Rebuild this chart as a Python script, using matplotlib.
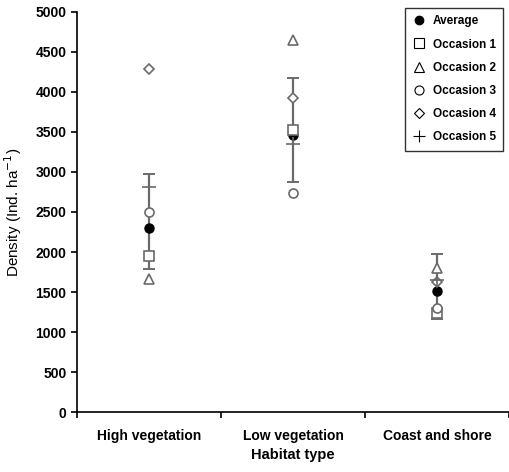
import matplotlib
matplotlib.use("Agg")
import matplotlib.pyplot as plt
from matplotlib.lines import Line2D

plt.rcParams['font.family'] = ['Liberation Sans', 'DejaVu Sans']

habitats = ['High vegetation', 'Low vegetation', 'Coast and shore']
average = [2300, 3460, 1510]
err_low = [1790, 2875, 1160]
err_high = [2975, 4175, 1975]
occasion1 = [1950, 3525, 1235]
occasion2 = [1665, 4650, 1800]
occasion3 = [2500, 2740, 1300]
occasion4 = [4290, 3925, 1625]
occasion5 = [2815, 3350, 1650]

fig = plt.figure(figsize=(5.09, 4.72), dpi=100)
ax = fig.add_axes([0.1513, 0.1271, 0.8487, 0.8475])

xs = [i + 0.5 for i in range(len(habitats))]
grey = '#6a6a6a'

# error bars for the averages
lo = [a - l for a, l in zip(average, err_low)]
hi = [h - a for a, h in zip(average, err_high)]
ax.errorbar(xs, average, yerr=[lo, hi], fmt='none', ecolor=grey,
            elinewidth=1.6, capsize=4.5, capthick=1.4, zorder=1)

# average sits under the occasion markers
ax.plot(xs, average, marker='o', markersize=6.5, linestyle='none',
        color='black', zorder=2)

mk = dict(linestyle='none', markerfacecolor='white', markeredgecolor=grey,
          markeredgewidth=1.2, zorder=3)
ax.plot(xs, occasion1, marker='s', markersize=6.5, **mk)
ax.plot(xs, occasion2, marker='^', markersize=7.5, **mk)
ax.plot(xs, occasion3, marker='o', markersize=6.5, **mk)
ax.plot(xs, occasion4, marker='D', markersize=5.5, **mk)
ax.plot(xs, occasion5, marker='+', markersize=10, linestyle='none',
        color=grey, markeredgewidth=1.2, zorder=3)

ax.set_xlim(0, 3)
ax.set_ylim(0, 5000)
ax.set_yticks(range(0, 5001, 500))
ax.set_xticks([0, 1, 2, 3])
ax.set_xticklabels([])
ax.set_xticks(xs, minor=True)
ax.set_xticklabels(habitats, minor=True, fontweight='bold', fontsize=10)
ax.tick_params(axis='x', which='minor', length=0, pad=12)
ax.tick_params(axis='x', which='major', length=4, width=1.2)
ax.tick_params(axis='y', length=4, width=1.2, labelsize=10)
for lab in ax.get_yticklabels():
    lab.set_fontweight('bold')

ax.spines['top'].set_visible(False)
ax.spines['right'].set_visible(False)
ax.spines['left'].set_linewidth(1.2)
ax.spines['bottom'].set_linewidth(1.2)

ax.set_xlabel('Habitat type', fontweight='bold', fontsize=10.5, labelpad=4)
ax.set_ylabel('Density (Ind. ha$^{-1}$)', fontsize=11, labelpad=8)

handles = [
    Line2D([], [], marker='o', color='black', linestyle='none', markersize=6),
    Line2D([], [], marker='s', markerfacecolor='white', markeredgecolor='black',
           linestyle='none', markersize=7, markeredgewidth=0.8),
    Line2D([], [], marker='^', markerfacecolor='white', markeredgecolor='black',
           linestyle='none', markersize=7.5, markeredgewidth=0.8),
    Line2D([], [], marker='o', markerfacecolor='white', markeredgecolor='black',
           linestyle='none', markersize=6.5, markeredgewidth=0.8),
    Line2D([], [], marker='D', markerfacecolor='white', markeredgecolor='black',
           linestyle='none', markersize=5.5, markeredgewidth=0.8),
    Line2D([], [], marker='+', color='black', linestyle='none', markersize=9,
           markeredgewidth=0.8),
]
labels = ['Average', 'Occasion 1', 'Occasion 2', 'Occasion 3', 'Occasion 4', 'Occasion 5']
leg = fig.legend(handles, labels, loc='upper right', bbox_to_anchor=(1.0, 0.995),
                 frameon=True, fancybox=False, edgecolor='black', handlelength=1.2,
                 handletextpad=0.6, labelspacing=0.95, borderpad=0.6,
                 prop={'weight': 'bold', 'size': 8.5})
leg.get_frame().set_linewidth(1.0)

fig.savefig('out.png', dpi=100)
